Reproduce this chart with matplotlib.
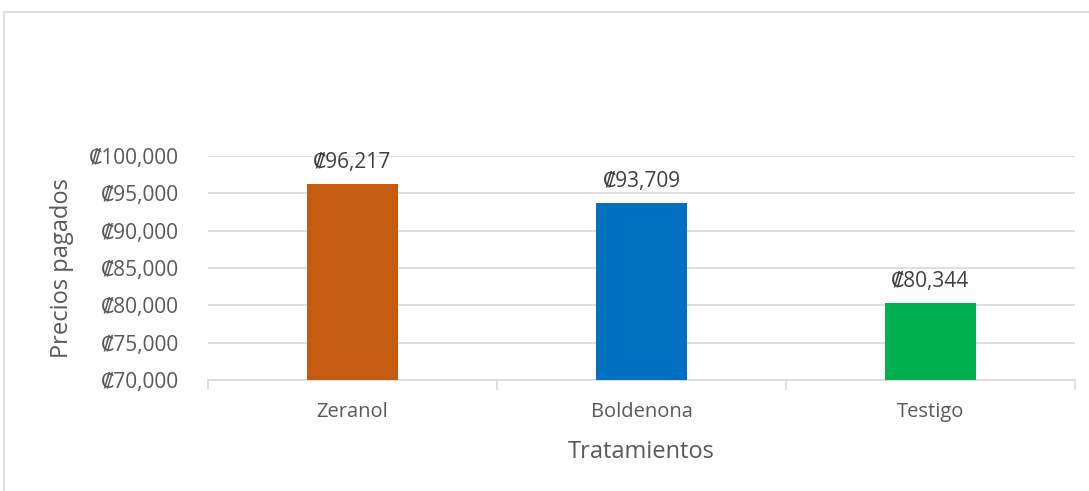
import matplotlib

matplotlib.use("Agg")
import matplotlib.pyplot as plt
from matplotlib.patches import Rectangle
from matplotlib.ticker import FuncFormatter, MultipleLocator

# Data
categories = ["Zeranol", "Boldenona", "Testigo"]
prices = [96217, 93709, 80344]
bar_colors = ["#C55A11", "#0070C0", "#00B050"]

TEXT = "#595959"
GRID = "#D9D9D9"

plt.rcParams["font.family"] = ["Open Sans", "DejaVu Sans"]


def colon(v, _pos=None):
    return f"\u20a1{v:,.0f}"


fig = plt.figure(figsize=(10.89, 4.91), dpi=100)
# outer chart-area border
fig.patches.append(Rectangle((4 / 1089, -0.01), 1.02, 1 - 12 / 491 + 0.01,
                             transform=fig.transFigure, fill=False,
                             edgecolor=GRID, linewidth=1.2))

ax = fig.add_axes([208 / 1089, 1 - 380 / 491, 867 / 1089, 224 / 491])
x = range(len(categories))
bars = ax.bar(x, [p - 70000 for p in prices], bottom=70000, width=0.315,
              color=bar_colors, zorder=3)

ax.set_xlim(-0.5, len(categories) - 0.5)
ax.set_ylim(70000, 100000)
ax.yaxis.set_major_locator(MultipleLocator(5000))
ax.yaxis.set_major_formatter(FuncFormatter(colon))
ax.grid(axis="y", color=GRID, linewidth=1.2, zorder=0)

ax.set_xticks(list(x))
ax.set_xticklabels(categories)
ax.set_xticks([-0.5, 0.5, 1.5, 2.5], minor=True)
ax.tick_params(axis="x", which="major", length=0, pad=16, labelsize=14.5, colors=TEXT)
ax.tick_params(axis="x", which="minor", length=7, color=GRID, width=1.2)
ax.tick_params(axis="y", length=0, pad=21, labelsize=15, colors=TEXT)

for side in ["top", "right", "left"]:
    ax.spines[side].set_visible(False)
ax.spines["bottom"].set_color(GRID)
ax.spines["bottom"].set_linewidth(1.2)

ax.set_xlabel("Tratamientos", color=TEXT, fontsize=17, va="top")
ax.xaxis.set_label_coords(0.5, -0.27)
ax.set_ylabel("Precios pagados", color=TEXT, fontsize=17, va="center")
ax.yaxis.set_label_coords(-0.168, 0.5)

for bar, p in zip(bars, prices):
    ax.annotate(colon(p), (bar.get_x() + bar.get_width() / 2, p),
                xytext=(0, 11.5), textcoords="offset points",
                ha="center", va="baseline", fontsize=15, color="#404040",
                annotation_clip=False)

fig.savefig("out.png", dpi=100)
